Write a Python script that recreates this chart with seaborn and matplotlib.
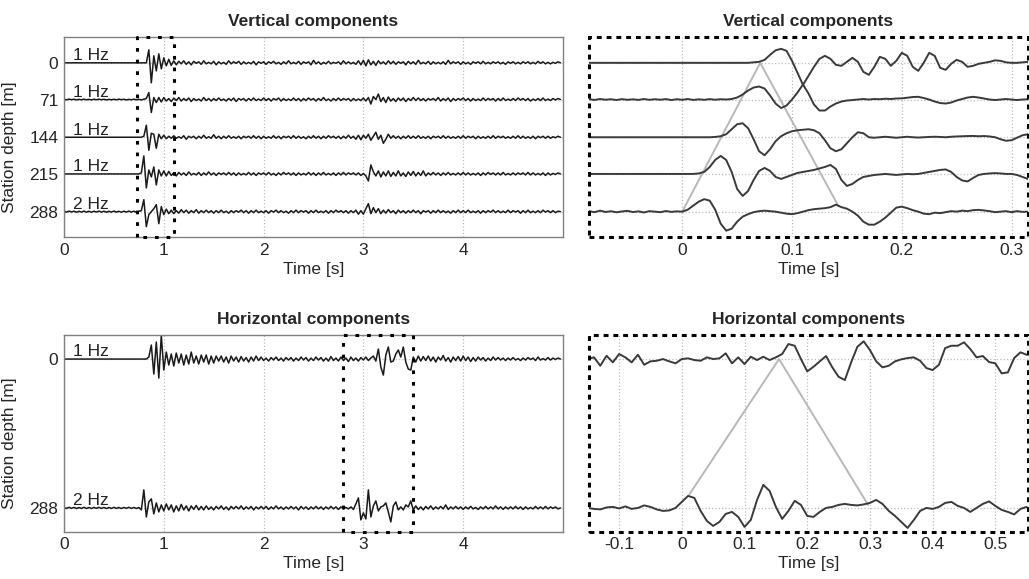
import numpy as np
import matplotlib.pyplot as plt
import seaborn as sns
from matplotlib.patches import Rectangle

# station depths [m]
vert_depths = [0, 71, 144, 215, 288]
horz_depths = [0, 288]
vert_freq = ['1 Hz', '1 Hz', '1 Hz', '1 Hz', '2 Hz']
horz_freq = ['1 Hz', '2 Hz']

# ---- full records, dt = 0.025 s, amplitude (px, up = +)
v0 = [0, 0, 0, 0, 0, 0, 0, 0, 0, 0, 0, 0, 0, 0, 0, 0, 0, 0, 0, 0,
      0, 0, 0, 0, 0, 0, 0, 0, 0, 0, 0, 0, 0, 0, 13, -20, 7, -8, 9, -6,
      5, -3, 3.5, -2.5, 2, -2, 1.5, -1, 2, -1.5, 1, -2, 1.5, -0.5, 1, -1.5, 2, -1, 0.5, -1,
      1.5, -2, 1, -1, 0.5, -1.5, 2, -1, 1, -0.5, 1.5, -1.5, 1, -1, 0.5, -1, 1.5, -2, 1, -0.5,
      1, -1.5, 1, -0.5, 1.5, -1, 0.5, -1.5, 1, -1, 2, -1, 0.5, -1, 1.5, -1.5, 1, -0.5, 1, -2,
      2.5, -1, 1, -1.5, 0.5, -1, 1.5, -1, 0.5, -0.5, 1, -1.5, 2, -1, 1, -1, 0.5, -1.5, 2, -2,
      2.5, -3, 3, -2, 1.5, -2.5, 2, -1, 1, -1.5, 2, -1, 1.5, -1.5, 1, -0.5, 1, -2, 1.5, -1,
      1, -1.5, 2.5, -1, 0.5, -1, 1.5, -1.5, 1, -1, 0.5, -1, 1, -1.5, 2.5, -1, 1, -0.5, 1, -1.5,
      1, -1, 0.5, -1.5, 1, -0.5, 1, -1, 1.5, -1, 0.5, -1, 1, -0.5, 1, -1, 0.5, -1.5, 1, -0.5,
      1, -1, 0.5, -1, 1, -0.5, 1, -1, 0.5, -1, 1.5, -0.5, 1, -1, 0.5, -1, 0.5, -0.5, 1, 0]
v1 = [0.3, -0.3, 0.4, -0.2, 0.3, -0.4, 0.2, -0.3, 0.4, -0.3, 0.2, -0.4, 0.3, -0.2, 0.4, -0.3, 0.3, -0.4, 0.2, -0.3,
      0.3, -0.3, 0.4, -0.2, 0.3, -0.4, 0.2, -0.3, 0.4, -0.3, 0.2, -0.4, 0.3, 1, 7, -13, 2, -3, 2, -2.5,
      2, -1.5, 1, -2, 1.5, -1, 2, -1.5, 1, -1, 1.5, -2, 1, -1, 0.5, -1.5, 2, -1, 1, -1.5,
      1, -1, 1.5, -1, 0.5, -1.5, 1, -1, 1.5, -2, 1, -0.5, 1, -1.5, 1, -1, 1.5, -1, 0.5, -1,
      1.5, -1, 1, -1.5, 1, -0.5, 1.5, -1.5, 1, -1, 0.5, -1, 1.5, -1, 1, -1.5, 1, -1, 1.5, -0.5,
      1, -1.5, 1, -1, 2, -1, 0.5, -1.5, 1, -1, 1.5, -1, 1, -0.5, 1, -1.5, 1, -1, 0.5, -1,
      1.5, -1.5, 2, -4.5, 3, 0, 5.5, -2, 2, -3, 2.5, -1.5, 1, -2, 1.5, -1, 1.5, -2, 1, -1,
      2, -1, 1.5, -1, 1, -1.5, 1, -0.5, 1, -1, 2, -1.5, 1, -1, 1.5, -2, 1, -1, 1, -0.5,
      1.5, -1, 1, -1.5, 1, -1, 0.5, -1, 1.5, -1, 1, -0.5, 1, -1.5, 1, -1, 1.5, -1, 0.5, -1,
      1, -1, 1.5, -0.5, 1, -1, 1, -1.5, 0.5, -1, 1, -1, 1.5, -1, 0.5, -1, 1, -0.5, 1, 0]
v2 = [0, 0, 0, 0, 0, 0, 0, 0, 0, 0, 0, 0, 0, 0, 0, 0, 0, 0, 0, 0,
      0, 0, 0, 0, 0, 0, 0, 0, 0, 0, 0, 0, 1, 12, -13, 4, 3, -11, 3, -1.5,
      2, -1.5, 1, -1, 1.5, -1, 0.5, -1, 1.5, -2, 1, -0.5, 1, -1.5, 1, -1, 2, -1, 0.5, -1,
      2.5, -1, 1, -1.5, 1, -1, 1.5, -1, 0.5, -1, 1, -1.5, 1, -0.5, 1, -1, 1.5, -1, 1, -1.5,
      1, -1, 0.5, -1, 1.5, -1, 1, -1.5, 1, -0.5, 1, -1, 1.5, -1, 1, -1, 0.5, -1.5, 1, -1,
      1.5, -1, 1, -1.5, 1, -1, 1.5, -0.5, 1, -1, 1, -1.5, 1, -1, 2, -1, 1, -2, 2, -2.5,
      2, -1, 3, -3, 1, 5, -2, 2, -6, -2, 3, -1, 1.5, -1, 1, -1.5, 1, -1, 1.5, -1,
      1, -1, 1.5, -1, 0.5, -1, 1, -1.5, 1, -0.5, 1, -1, 1.5, -1, 1, -1, 0.5, -1, 1, -1,
      1.5, -1, 1, -0.5, 1, -1.5, 1, -1, 0.5, -1, 1, -1, 1.5, -1, 1, -0.5, 1, -1, 0.5, -1,
      1, -1, 1.5, -1, 1, -1, 0.5, -1, 1, -1.5, 1, -0.5, 1, -1, 1, -1, 0.5, -0.5, 1, 0]
v3 = [0, 0, 0, 0, 0, 0, 0, 0, 0, 0, 0, 0, 0, 0, 0, 0, 0, 0, 0, 0,
      0, 0, 0, 0, 0, 0, 0, 0, 0, 0, 0, 1, 18, -14, 4, -3, 7, -11, 4, -2,
      3, -2, 2.5, -1.5, 1, -2, 1.5, -1, 1, -1.5, 2, -1, 0.5, -1, 1.5, -1.5, 1, -1, 2, -1,
      1, -1.5, 1, -0.5, 1, -1, 1.5, -1, 1, -1.5, 1, -1, 0.5, -1, 1.5, -1, 1, -1.5, 1, -0.5,
      1, -1, 1.5, -1, 0.5, -1.5, 1, -1, 1.5, -0.5, 1, -1, 1, -1.5, 1, -1, 0.5, -1, 1.5, -1,
      1, -1.5, 1, -1, 1.5, -1, 0.5, -1, 1, -1.5, 1, -1, 1.5, -1, 1, -0.5, 1, -1, 1, -1.5,
      0.5, -2, -7, 9, 2, -2, 3, -3, 2, -2, 3, -2.5, 1.5, -2, 3, -2, 1, -2.5, 2, -1.5,
      2.5, -2, 1.5, -1.5, 3, -2, 1, -1, 1.5, -1, 1, -1.5, 1, -1, 1.5, -1, 0.5, -1, 1, -1,
      1.5, -1, 1, -1, 0.5, -1, 1, -1.5, 1, -1, 1.5, -0.5, 1, -1, 1, -1, 1.5, -1, 0.5, -1,
      1, -1, 1, -0.5, 1, -1, 1.5, -1, 1, -1, 0.5, -1, 1, -1.5, 1, -1, 0.5, -0.5, 1, 0]
v4 = [0.5, -0.5, 0.6, -0.4, 0.5, -0.6, 0.4, -0.5, 0.6, -0.5, 0.4, -0.6, 0.5, -0.4, 0.6, -0.5, 0.5, -0.6, 0.4, -0.5,
      0.6, -0.5, 0.4, -0.6, 0.5, -0.4, 0.6, -0.5, 0.5, -0.6, 0.4, 1, 12, -15, -3, 0, 3, 7, -12, 5,
      -3, 2.5, -2, 1.5, -2, 1, -1.5, 2, -1, 1.5, -1.5, 1, -1, 2, -1.5, 1, -1, 1.5, -1, 1,
      -1.5, 1, -1, 1.5, -1, 0.5, -1.5, 1, -1, 1, -0.5, 1.5, -1, 1, -1.5, 1, -1, 1.5, -1, 0.5,
      -1, 1, -1.5, 1, -0.5, 1.5, -1, 1, -1, 0.5, -1.5, 1, -1, 1.5, -1, 1, -0.5, 1, -1.5, 1,
      -1, 1.5, -1, 0.5, -1, 1, -1.5, 1, -1, 1.5, -0.5, 1, -1, 1, -1.5, 1, -1, 1.5, -2.5, 1,
      -2.5, 3, 8, -2, 4, -1, 3, -2, 1.5, -1.5, 2, -1, 1, -2, 1.5, -1, 1, -1.5, 1, -1,
      1.5, -1, 1, -2, 1, -0.5, 1, -1.5, 1, -1, 1.5, -1, 1, -1, 0.5, -1.5, 1, -1, 1.5, -1,
      1, -1, 1.5, -1, 0.5, -1, 1, -1.5, 1, -1, 1, -0.5, 1.5, -1, 1, -1, 0.5, -1, 1.5, -1,
      1, -0.5, 1, -1.5, 1, -1, 1.5, -1, 0.5, -1, 1, -1, 1.5, -0.5, 1, -1, 1, -1, 0.5, 0]
h0 = [0, 0, 0, 0, 0, 0, 0, 0, 0, 0, 0, 0, 0, 0, 0, 0, 0, 0, 0, 0,
      0, 0, 0, 0, 0, 0, 0, 0, 0, 0, 0, 0, 0, 0, 2, 14, -15, 17, -19, 24,
      -11, 7, -6, 5, -7, 6, -4, 5, -6, 4, -5, 7, -4, 3, -5, 4, -3, 4, -5, 3,
      -4, 3, -2, 3, -3, 2, -4, 3, -2, 2, -3, 2.5, -2, 1.5, -3, 2, -2, 3, -1.5, 2,
      -1.5, 1, -2, 1.5, -1, 2, -1.5, 1, -2, 1.5, -1, 1.5, -2, 1, -1.5, 2, -1, 1.5, -2, 1,
      -1.5, 2, -1, 1.5, -2, 1, -2, 2.5, -1.5, 1, -2, 2, -1.5, 1, -2.5, 2, -1.5, 1, -2, 1.5,
      -1, 2, -1.5, 1, 3, -2, 10, -8, -16, 4, 12, -3, -2, 5, 9, 2, 12, -3, -10, -11,
      2, -3, 3, -2, 2.5, -1.5, 3, -2, 2, -3, 2, -1, 3.5, -2, 1.5, -3, 2, -1.5, 2.5, -2,
      3, -1.5, 2, -2.5, 1.5, -2, 2, -1, 1.5, -2, 1, -1.5, 2, -1, 1.5, -1, 1, -1.5, 1, -1,
      1.5, -1, 0.5, -1.5, 1, -1, 1.5, -0.5, 1, -1.5, 2, -1, 0.5, -1, 1.5, -1, 1, -0.5, 1, 0]
h1 = [0.5, -0.5, 0.6, -0.4, 0.5, -0.6, 0.4, -0.5, 0.6, -0.5, 0.4, -0.6, 0.5, -0.4, 0.6, -0.5, 0.5, -0.6, 0.4, -0.5,
      0.6, -0.5, 0.4, -0.6, 0.5, -0.4, 0.6, -0.5, 0.5, -0.6, 0.4, -2, 18, -9, 6, 9, -6, 5, -4, 3,
      -3, 4, -2, 3, -4, 2, -3, 3.5, -2, 2, -3, 2, -1.5, 2.5, -2, 1.5, -2, 2, -1.5, 1,
      -2, 1.5, -1, 2, -1.5, 1, -2, 1.5, -1, 1.5, -1, 2, -1.5, 1, -1, 1.5, -2, 1, -1, 1.5,
      -1, 1.5, -1.5, 1, -1, 2, -1, 1, -1.5, 1, -1, 1.5, -1, 1, -2, 1.5, -1, 1, -1.5, 1,
      -1, 1.5, -1, 1, -1.5, 1, -1, 1.5, -1, 1, -1.5, 1, -1, 0.5, -1, 1, -1.5, 4, 10, -12,
      -5, -11, 18, -9, 2, 7, -3, 1, 2, 5, -4, -14, 2, 6, -2, 1, -2, 3, 1, 7,
      -2, 2, -1.5, 1, -2, 1.5, -1, 2, -1.5, 1, -1, 1.5, -1, 3, -1.5, 1, -1, 1.5, -1, 1,
      -1.5, 1, -1, 1.5, -1, 0.5, -1.5, 1, -1, 1.5, -1, 1, -1, 2, -1, 1, -1.5, 1, -1, 1,
      -1, 1.5, -1, 1, -1.5, 1, -1, 0.5, -1, 1.5, -1, 1, -1, 1.5, -1, 1, -0.5, 1, -1, 0]

# ---- zoomed windows
# vertical: dt = 0.005 s starting at -0.085 s
zv0 = [0, 0, 0, 0, 0, 0, 0, 0, 0, 0, 0, 0, 0, 0, 0, 0, 0, 0, 0, 0, 0, 0, 0, 0, 0, 0, 0, 0, 0, 0,
       0.5, 1, 3, 8, 12.5, 14, 12, 2, -10, -22, -13, -4, 4, 7, 4, -2, -3, 1, 5, 1,
       -9, -12, -4, 6, 4, -3, 2, 10, 7, -4, -8, 0, 10, 7, -5, -7, -1, 3, 1, -4,
       -3, -1, 0, 1, 2.5, 2, 0.5, 0, 0, 0.5, 1]
zv1 = [0.3, -0.4, 0.5, -0.2, 0.3, -0.5, 0.4, -0.3, 0.2, -0.4, 0.5, -0.3, 0.3, -0.2, 0.4, -0.5, 0.3, -0.3, 0.5, -0.4,
       0.2, -0.3, 0.4, -0.2, 0.3, 0,
       0.5, 2, 5, 9, 12, 13, 11, 4, -4, -8.5, -6, 0, 7, 15, 6, -5, -11, -11, -7, -4,
       -2, -1, -0.5, 0, 0.5, 0, 0.5, 0.3, 0.8, 0.5, 1, 1.2, 1.8, 2.5, 2.7, 1.5, 0, -2, -3.5, -4,
       -3, -1, 0.5, 2, 2.7, 2, 1, 0, -0.5, 0, 0.5, 0, -0.5, 0, 0.3]
zv2 = [0, 0, 0, 0, 0, 0, 0, 0, 0, 0, 0, 0, 0, 0, 0, 0, 0, 0, 0, 0, 0, 0, 0,
       0.3, 1, 3, 8, 13, 14, 9, -2, -14, -18, -12, -4, 1, 4, 6, 7, 7.5, 8, 7, 4,
       -3, -11, -14, -12, -6, 0, 5, 4, 0, -0.5, 0, 0.5, 0, -0.5, 0, 0.5, 0, -0.3, 0, 0.3,
       0.5, 0.3, 0, 0.5, 0.8, 1, 1.2, 1.3, 1, 1.2, 0.8, 0, -2, -3.5, -3, -0.5, 2, 3]
zv3 = [0, 0, 0, 0, 0, 0, 0, 0, 0, 0, 0, 0, 0, 0, 0, 0, 0, 0, 0, 0,
       0.5, 2, 7, 14, 18, 14, 2, -15, -22, -17, -6, 3, 6, 3, -3, -5, -3, -1, 1, 2,
       3, 4, 5.5, 7, 9, 5, -6, -12, -10, -6, -3, -2, -1, -0.5, 0, -0.5, -1, -0.5, 0, -0.3,
       0, 1, 2, 3, 4, 4.5, 2, -3, -6.5, -7.5, -4, -1, 0, 0.5, 0.8, 0.5, 0, 0, -1, -3, -5]
zv4 = [0.5, -0.5, 1, -0.3, 0.4, -0.6, 0.2, 0.8, -0.4, 0.3, -0.8, 0.5, 0, -0.5, 0.6, -0.2, 0.3,
       0, 2, 6, 10, 12.5, 11, 2, -12, -19, -17, -10, -5, -2.5, -0.5, 0.5, 1, 0.5, 0, -1, -2,
       -2.5, -1.5, 0, 1.5, 2.5, 3, 3.5, 4.5, 7, 4.5, 3, 0, -4, -10, -13, -13, -10, -6, -1, 4,
       5, 3.5, 1.5, 0, -2, -2.5, -1, -1.5, -0.5, 0.5, 0, 1, 0.5, 1.5, 1.8, 1.2, 0.5, -0.5, 0, 0.5,
       -0.5, 0.5, -0.2, 0]
# horizontal: dt = 0.01 s starting at -0.15 s
zh0 = [0, 1.7, -6.7, 3.3, -3.3, 5, 1.7, -3.3, 4.3, -5.7, -2.3, -1.7, 0, -2.3, -4.3, 0, 0.7, -1, -1.7, 1.7,
       0, 0.7, 5.7, -4.3, 1.7, -5, 2.3, -1, 2.3, -1, 1.7, 5, 15, 13.3, 0, -12.3, -7.7, -2.3, 3, -8.3,
       -17.7, -21, -3.3, 12.3, 17.7, 9, -2.3, -8.3, -6.7, -2.3, -0.3, 1, 1.7, -1.7, -9, -11, -5.7, 11, 13.3, 13.3,
       16.7, 10, 1.7, 3, -3, -4.3, -14.3, -13.3, 1, 6.7, 4.3]
zh1 = [0, -1, -1.5, 0.5, 1, -0.5, 1.5, -1, 0, 2.5, 1, -1.5, -3, -2.5, 0, 6, 12, 10, -3, -13,
       -18, -14, -6, -4, -9, -19, -12, 8, 23, 17, 1, -11, -3, 7, 3, -8, -9, -4, 0, 1,
       3, 4, 3, 2.5, 3.5, 5, 8, 4, -3, -8, -14, -20, -12, -3, 0, -1, 1, 5, 6, 2,
       0, -4, 0, 4, 6.5, 2, -2, -4, -6.5, -1, 1]

# moveout guide lines (time [s], depth [m])
vguide_t = [0.0, 0.071, 0.142]
vguide_d = [288, 0, 276]
hguide_t = [0.012, 0.155, 0.297]
hguide_d = [262, 0, 282]

vert_traces = [v0, v1, v2, v3, v4]
horz_traces = [h0, h1]
zvert = [zv0, zv1, zv2, zv3, zv4]
zhorz = [zh0, zh1]

sns.set_style('white')
plt.rcParams['font.family'] = ['Liberation Sans', 'DejaVu Sans']
plt.rcParams['font.size'] = 12.5

PX = 1.936  # metres per pixel of trace deflection
FULL_DT = 0.025

fig = plt.figure(figsize=(10.29, 5.79), dpi=100)
ax_tl = fig.add_axes([0.0622, 0.5907, 0.4849, 0.3454])
ax_tr = fig.add_axes([0.5724, 0.5907, 0.4266, 0.3454])
ax_bl = fig.add_axes([0.0622, 0.0817, 0.4849, 0.3397])
ax_br = fig.add_axes([0.5724, 0.0817, 0.4266, 0.3397])


def style_axes(ax, ticks, ylim, xlim):
    ax.set_xlim(*xlim)
    ax.set_ylim(*ylim)
    ax.set_yticks(ticks)
    ax.grid(True, ls=':', color='#bdbdbd', lw=0.9)
    ax.tick_params(direction='in', length=3, color='#777777', pad=4)
    ax.set_xlabel('Time [s]', labelpad=3)


def full_panel(ax, traces, depths, freqs, title, box, ylim):
    for amp, d, f in zip(traces, depths, freqs):
        a = np.array(amp, dtype=float)
        t = np.arange(len(a)) * FULL_DT
        sns.lineplot(x=t, y=d - a * PX, ax=ax, color='#1a1a1a', lw=1.1,
                     estimator=None, sort=False)
        ax.text(0.09, d - 5, f, fontsize=12.5, va='baseline', ha='left', color='#222222')
    style_axes(ax, depths, ylim, (0, 5))
    ax.set_xticks([0, 1, 2, 3, 4])
    ax.set_yticklabels([str(d) for d in depths])
    ax.set_ylabel('Station depth [m]')
    ax.yaxis.set_label_coords(-0.095, 0.45)
    ax.set_title(title, fontweight='bold', fontsize=12.5, pad=8)
    for s in ax.spines.values():
        s.set_color('#808080')
        s.set_linewidth(1)
    x0, x1 = box
    ax.plot([x0, x0, x1, x1, x0], [ylim[0], ylim[1], ylim[1], ylim[0], ylim[0]],
            color='black', lw=2.2, ls=(0, (1.2, 2.6)), clip_on=False, zorder=5)


def zoom_panel(ax, traces, depths, t0, dt, title, xlim, xticks, xlabels,
               guide_t, guide_d, ylim):
    sns.lineplot(x=guide_t, y=guide_d, ax=ax, color='#b8b8b8', lw=1.4,
                 estimator=None, sort=False)
    for amp, d in zip(traces, depths):
        a = np.array(amp, dtype=float)
        t = t0 + np.arange(len(a)) * dt
        sns.lineplot(x=t, y=d - a * PX, ax=ax, color='#3a3a3a', lw=1.4,
                     estimator=None, sort=False)
    style_axes(ax, depths, ylim, xlim)
    ax.set_xticks(xticks)
    ax.set_xticklabels(xlabels)
    ax.set_yticklabels([])
    ax.tick_params(axis='y', length=0)
    ax.set_title(title, fontweight='bold', fontsize=12.5, pad=8)
    for s in ax.spines.values():
        s.set_visible(False)
    ax.add_patch(Rectangle((0, 0), 1, 1, transform=ax.transAxes, fill=False,
                           ec='black', lw=2.2, ls=(0, (1.6, 1.6)), clip_on=False, zorder=6))


full_panel(ax_tl, vert_traces, vert_depths, vert_freq, 'Vertical components',
           (0.735, 1.10), (337, -50))
full_panel(ax_bl, horz_traces, horz_depths, horz_freq, 'Horizontal components',
           (2.80, 3.50), (334, -46.5))
zoom_panel(ax_tr, zvert, vert_depths, -0.085, 0.005, 'Vertical components',
           (-0.085, 0.315), [0, 0.1, 0.2, 0.3], ['0', '0.1', '0.2', '0.3'],
           vguide_t, vguide_d, (337, -50))
zoom_panel(ax_br, zhorz, horz_depths, -0.15, 0.01, 'Horizontal components',
           (-0.148, 0.552), [-0.1, 0, 0.1, 0.2, 0.3, 0.4, 0.5],
           ['-0.1', '0', '0.1', '0.2', '0.3', '0.4', '0.5'],
           hguide_t, hguide_d, (334, -46.5))

fig.savefig('out.png', dpi=100)
